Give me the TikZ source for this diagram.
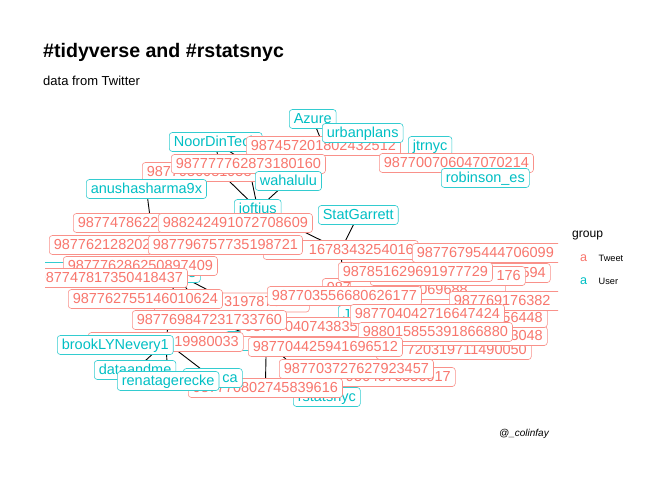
\documentclass[tikz,border=0pt]{standalone}
\usepackage{fontspec}
\setmainfont{Liberation Sans}
\pgfdeclarelayer{bg}
\pgfsetlayers{bg,main}
\definecolor{twc}{HTML}{F8766D}
\definecolor{usc}{HTML}{00BFC4}
\colorlet{twb}{twc!80!white}
\colorlet{usb}{usc!80!white}
\newcommand\labfont{\fontsize{14.5}{16}\selectfont}
\tikzset{
 lab/.style={draw, rounded corners=3pt, fill=white, anchor=west, inner xsep=4.5pt, inner ysep=3.25pt, text height=10.5pt, text depth=2pt, font=\labfont, line width=0.6pt},
 tw/.style={lab, draw=twb, text=twc},
 us/.style={lab, draw=usb, text=usc},
 edge/.style={draw=black, line width=0.9pt},
 fr/.style={text width=#1, align=right},
 fl/.style={text width=#1, align=left},
}
\begin{document}
\begin{tikzpicture}[x=1pt,y=-1pt]
\useasboundingbox (0,0) rectangle (672,480);
\node[font=\fontsize{19.6}{22}\selectfont\bfseries, anchor=base west, inner sep=0] (title) at (43,57) {\#tidyverse and \#rstatsnyc};
\node[font=\fontsize{13}{15}\selectfont, anchor=base west, inner sep=0] (subtitle) at (43,85.5) {data from Twitter};
\node[font=\fontsize{10}{12}\selectfont\itshape, anchor=base east, inner sep=0] (caption) at (549,436) {@\_colinfay};

\begin{scope}
\clip (45,95) rectangle (558,420);
% partly hidden labels underneath
\node[tw, fl=146pt] (t9877) at (322,288) {9877};
\node[tw, fl=146pt] (t069) at (350,290) {\phantom{98770000}069688};
\node[us, minimum width=71pt] (uA) at (35,272) {};
\node[us, fr=41pt] (uB) at (150,273) {s};
\node[us, fl=90pt] (uJ) at (338,315) {J};
\node[us, minimum width=82pt] (uC) at (225,341) {};
\node[tw, fr=146pt] (t050) at (376,350) {720319711490050};
\node[tw, fr=146pt] (t048) at (392,336) {3048};
\node[tw, fr=146pt] (t448) at (392,318) {56448};
\node[tw, fr=146pt] (t594) at (395,273) {594};
\node[tw, fr=146pt] (t917) at (300,377) {9564576550917};
\node[us] (uRst) at (293,397) {rstatsnyc};
\node[tw, fl=146pt] (t407) at (240,327) {987770407438358};
% main labels
\node[us] (uNoor) at (169,142) {NoorDinTech};
\node[us] (uAzure) at (289,119) {Azure};
\node[tw] (t457) at (246,146) {987457201802432512};
\node[us] (uUrban) at (322,133) {urbanplans};
\node[us] (uJtr) at (408,146) {jtrnyc};
\node[tw] (t700) at (379,163) {987700706047070214};
\node[us] (uRob) at (441,178) {robinson\_es};
\node[tw, fl=146pt] (t795) at (142,172) {9877956081958};
\node[tw] (t777) at (171,164) {987777762873180160};
\node[us] (uWah) at (255,181) {wahalulu};
\node[us] (uAnu) at (86,189) {anushasharma9x};
\node[us] (uJof) at (234,209) {joftius};
\node[us] (uStat) at (318,215) {StatGarrett};
\node[tw, fl=146pt] (t478) at (73,223) {9877478622};
\node[tw] (t242) at (158,223) {988242491072708609};
\node[tw, fl=146pt] (t212) at (49,245) {987762128202};
\node[tw, fr=146pt] (t678) at (263,250) {1678343254016};
\node[tw] (t796) at (148,245) {987796757735198721};
\node[tw, fl=146pt] (t679) at (412,253) {98776795444706099};
\node[tw, fr=146pt] (t176) at (370,276) {176};
\node[tw] (t851) at (338,272) {987851629691977729};
\node[tw] (t286) at (63,266) {987776286250897409};
\node[tw] (t817) at (33,278) {987747817350418437};
\node[tw, fr=146pt] (t319) at (154,302.5) {3197878272};
\node[tw] (t755) at (68,299) {987762755146010624};
\node[tw] (t556) at (267,296) {987703556680626177};
\node[tw, fl=146pt] (t382) at (449,301) {987769176382};
\node[tw] (t760) at (132,320) {987769847231733760};
\node[tw] (t424) at (350,314) {987704042716647424};
\node[tw, fr=146pt] (t033) at (88,342) {19980033};
\node[tw] (t880) at (358,332) {988015855391866880};
\node[tw] (t512) at (248,347) {987704425941696512};
\node[us] (uBrook) at (57,345) {brookLYNevery1};
\node[us] (uData) at (94,370) {dataandme};
\node[tw] (t616) at (188,388) {987770802745839616};
\node[us, fr=50pt] (uCa) at (183,378) {ca};
\node[us] (uRen) at (117,381) {renatagerecke};
\node[tw] (t923) at (279,369) {987703727627923457};
\end{scope}

\begin{pgfonlayer}{bg}
\draw[edge] (uAzure.center) -- (t457.center);
\draw[edge] (uUrban.center) -- (t457.center);
\draw[edge] (uJtr.center) -- (t700.center);
\draw[edge] (uRob.center) -- (t700.center);
\draw[edge] (uNoor.center) -- (t777.center);
\draw[edge] (uNoor.center) -- (t795.center);
\draw[edge] (uJof.center) -- (t795.center);
\draw[edge] (uJof.center) -- (t777.center);
\draw[edge] (uJof.center) -- (uWah.center);
\draw[edge] (uJof.center) -- (t678.center);
\draw[edge] (uStat.center) -- (t678.center);
\draw[edge] (uAnu.center) -- (t478.center);
\draw[edge] (t678.center) -- (t556.center);
\draw[edge] (uB.center) -- (t760.center);
\draw[edge] (uB.center) -- (t319.center);
\draw[edge] (uB.center) -- (t033.center);
\draw[edge] (t033.center) -- (uData.center);
\draw[edge] (t033.center) -- (uRen.center);
\draw[edge] (t033.center) -- (uCa.center);
\draw[edge] (t760.center) -- (uC.center);
\draw[edge] (uC.center) -- (t616.center);
\draw[edge] (uC.center) -- (uRst.center);
\end{pgfonlayer}

\node[font=\fontsize{12.1}{14}\selectfont, anchor=base west, inner sep=0] (lgtitle) at (572,237.5) {group};
\node[text=twc, font=\fontsize{12.6}{14}\selectfont, inner sep=0] (lgkey1) at (583.5,258) {a};
\node[font=\fontsize{9.2}{11}\selectfont, anchor=west, inner sep=0] (lglab1) at (598.5,258) {Tweet};
\node[text=usc, font=\fontsize{12.6}{14}\selectfont, inner sep=0] (lgkey2) at (583.5,281) {a};
\node[font=\fontsize{9.2}{11}\selectfont, anchor=west, inner sep=0] (lglab2) at (598.5,281) {User};
\end{tikzpicture}
\end{document}
